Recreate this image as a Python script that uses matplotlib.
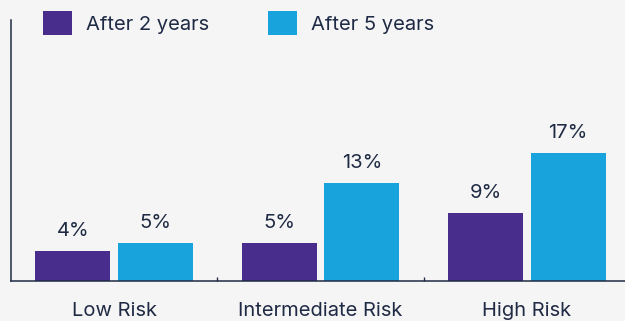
import matplotlib.pyplot as plt
import numpy as np

# Données
categories = ["Low Risk", "Intermediate Risk", "High Risk"]
after_2_years = [4, 5, 9]
after_5_years = [5, 13, 17]
series_labels = ["After 2 years", "After 5 years"]

couleur_2 = "#482d8c"
couleur_5 = "#18a3dc"
texte = "#1f2a44"
fond = "#f5f5f5"

plt.rcParams['font.family'] = ['Inter', 'DejaVu Sans']

fig = plt.figure(figsize=(6.25, 3.21), dpi=100, facecolor=fond)
ax = fig.add_axes([11 / 625, 40 / 321, 619 / 625, 261 / 321])
ax.set_facecolor(fond)

x = np.arange(len(categories))
largeur = 0.364
decalage = 0.2

b1 = ax.bar(x - decalage, after_2_years, largeur, color=couleur_2, label=series_labels[0])
b2 = ax.bar(x + decalage, after_5_years, largeur, color=couleur_5, label=series_labels[1])

for barres, valeurs in [(b1, after_2_years), (b2, after_5_years)]:
    for barre, v in zip(barres, valeurs):
        ax.annotate(f"{v}%", (barre.get_x() + barre.get_width() / 2, v),
                    xytext=(0, 8), textcoords="offset points",
                    ha="center", va="bottom", fontsize=14.5, color=texte)

ax.set_xlim(-0.5, 2.5)
ax.set_ylim(0, 261 / 7.53)

ax.set_xticks(x)
ax.set_xticklabels(categories, fontsize=14.5, color=texte)
ax.tick_params(axis='x', which='major', length=0, pad=15)
ax.set_xticks([0.5, 1.5], minor=True)
ax.tick_params(axis='x', which='minor', direction='in', length=3, width=1, color=texte)
ax.set_yticks([])

for s in ['top', 'right']:
    ax.spines[s].set_visible(False)
for s in ['left', 'bottom']:
    ax.spines[s].set_color(texte)
    ax.spines[s].set_linewidth(1.1)

fig.legend(loc="upper left", bbox_to_anchor=(43 / 625, 1 - 11 / 321), ncol=2,
           frameon=False, fontsize=14.5, handlelength=1.45, handleheight=1.45,
           handletextpad=0.7, columnspacing=2.9, borderpad=0, borderaxespad=0,
           labelcolor=texte)

plt.savefig("out.png", dpi=100, facecolor=fond)
